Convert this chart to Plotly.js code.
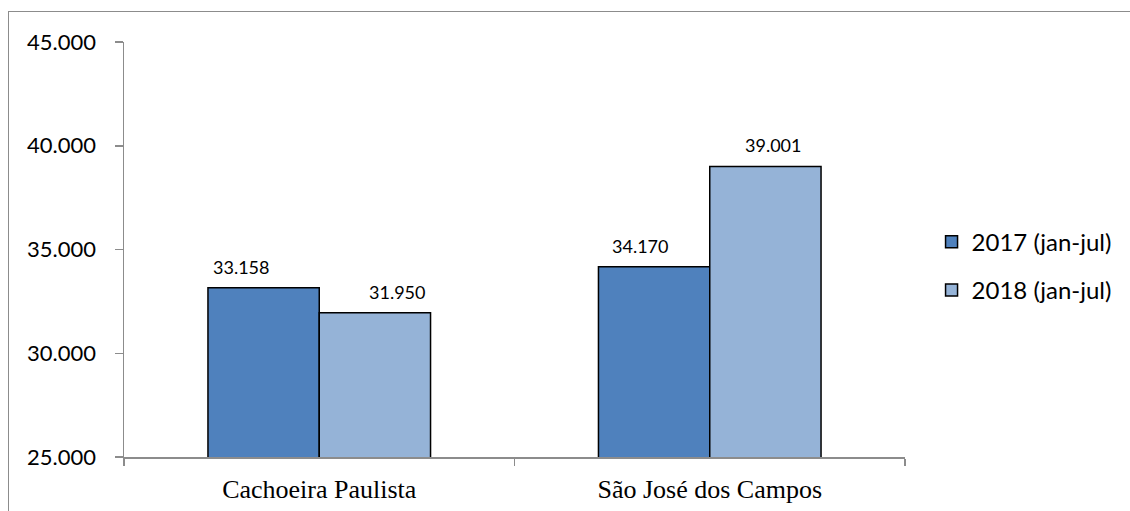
<!DOCTYPE html>
<html>
<head>
<meta charset="utf-8">
<script src="https://cdn.plot.ly/plotly-3.0.1.min.js"></script>
<style>
html,body{margin:0;padding:0;background:#fff;}
#wrap{position:relative;width:1130px;height:511px;overflow:hidden;}
#chart{position:absolute;left:0;top:0;width:1130px;height:511px;}
#frame{position:absolute;left:8px;top:11px;width:1140px;height:520px;border:1px solid #8c8c8c;pointer-events:none;box-sizing:border-box;}
</style>
</head>
<body>
<div id="wrap"><div id="chart"></div><div id="frame"></div></div>
<script>
const categories = ["Cachoeira Paulista", "São José dos Campos"];
const seriesNames = ["2017 (jan-jul)", "2018 (jan-jul)"];
const values2017 = [33158, 34170];
const values2018 = [31950, 39001];
const labels2017 = ["33.158", "34.170"];
const labels2018 = ["31.950", "39.001"];
const yTickVals = [25000, 30000, 35000, 40000, 45000];
const yTickText = ["25.000", "30.000", "35.000", "40.000", "45.000"];

const colors = ["#4F81BD", "#95B3D7"];
const seriesValues = [values2017, values2018];
const seriesLabels = [labels2017, labels2018];
const labelShift = [[-23, 22], [-14, 7]]; // per category: [2017, 2018]

const traces = seriesNames.map((n, i) => ({
  type: 'bar',
  name: n,
  x: categories,
  y: seriesValues[i],
  legendgroup: 'g' + i,
  marker: {color: colors[i], line: {color: '#000', width: 1.5}},
  hoverinfo: 'skip'
}));

const annotations = [];
categories.forEach((c, ci) => {
  seriesNames.forEach((n, si) => {
    annotations.push({
      x: c, y: seriesValues[si][ci], xref: 'x', yref: 'y',
      text: seriesLabels[si][ci], showarrow: false,
      yanchor: 'bottom', yshift: 8,
      xshift: (si === 0 ? -55.75 : 55.75) + labelShift[ci][si],
      font: {family: 'Lato, sans-serif', size: 18, color: '#000'}
    });
  });
});

const layout = {
  width: 1130, height: 511,
  margin: {l: 124, r: 225, t: 42, b: 54},
  paper_bgcolor: '#fff', plot_bgcolor: '#fff',
  separators: ',.',
  barmode: 'group', bargap: 0.43, bargroupgap: 0,
  showlegend: true,
  legend: {
    x: 1.034, y: 0.46, xanchor: 'left', yanchor: 'middle',
    font: {family: 'Lato, sans-serif', size: 24, color: '#000'},
    traceorder: 'grouped', tracegroupgap: 14,
    itemwidth: 30, bgcolor: 'rgba(0,0,0,0)'
  },
  xaxis: {
    type: 'category',
    showline: true, linecolor: '#8c8c8c', linewidth: 1.5,
    ticks: 'outside', tickson: 'boundaries', ticklen: 7, tickcolor: '#8c8c8c', tickwidth: 1.5,
    showgrid: false, zeroline: false,
    ticklabelstandoff: 8,
    tickfont: {family: '"Liberation Serif", "Times New Roman", serif', size: 26, color: '#000'}
  },
  yaxis: {
    range: [25000, 45000],
    tickvals: yTickVals, ticktext: yTickText,
    showline: true, linecolor: '#8c8c8c', linewidth: 1.5,
    ticks: 'outside', ticklen: 8, tickcolor: '#8c8c8c', tickwidth: 1.5,
    showgrid: false, zeroline: false,
    ticklabelstandoff: 14,
    tickfont: {family: 'Lato, sans-serif', size: 22, color: '#000'}
  },
  annotations: annotations
};

Plotly.newPlot('chart', traces, layout, {displayModeBar: false, staticPlot: true});
</script>
</body>
</html>
